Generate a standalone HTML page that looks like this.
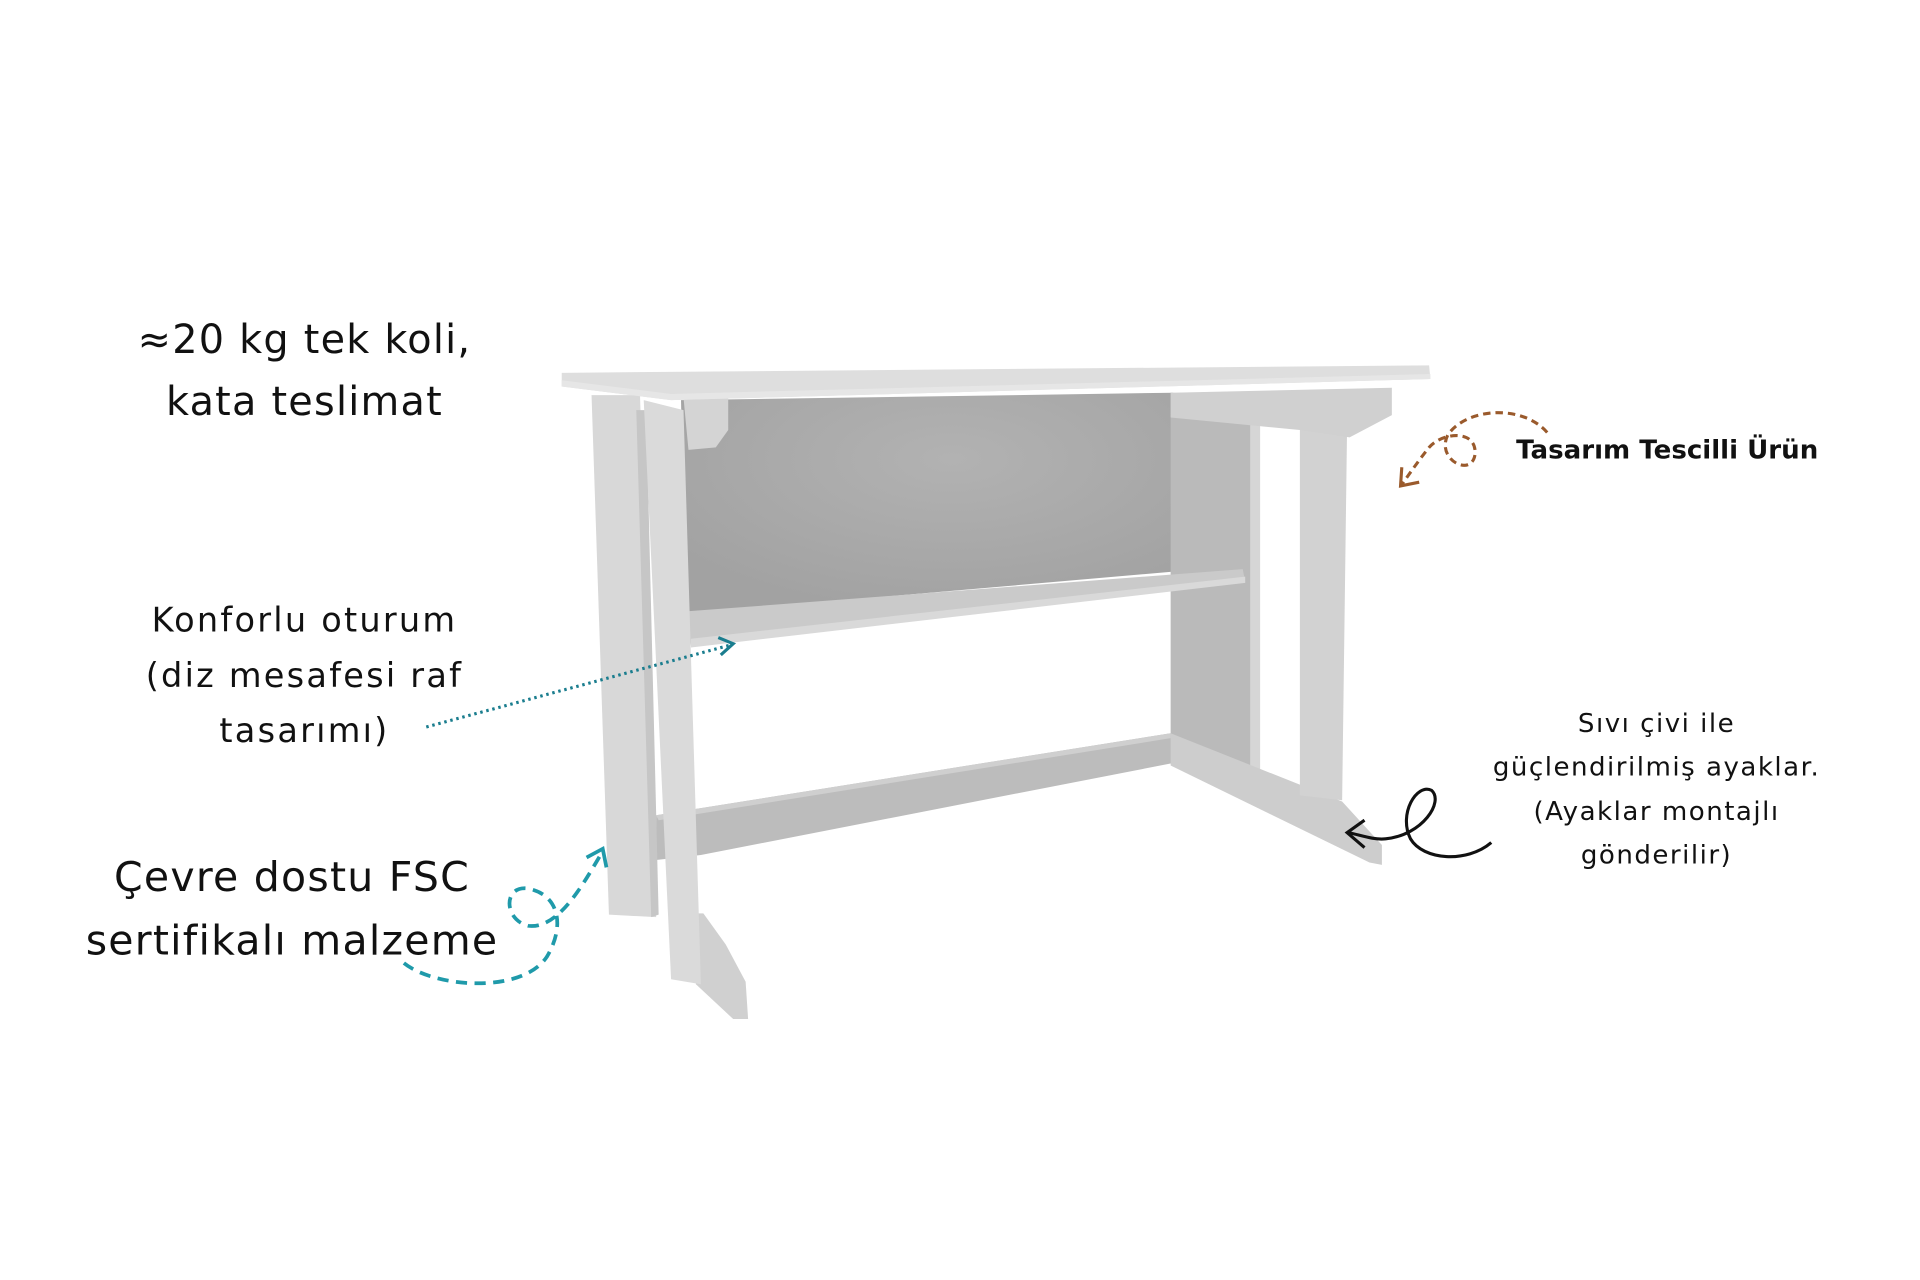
<!DOCTYPE html>
<html><head><meta charset="utf-8"><style>
html,body{margin:0;padding:0;background:#fff;}
svg{display:block}
text{font-family:"DejaVu Sans","Liberation Sans",sans-serif;fill:#111}
</style></head><body>
<svg width="1920" height="1280" viewBox="0 0 1545 1030" xmlns="http://www.w3.org/2000/svg">
<defs>
<radialGradient id="bp" cx="0.55" cy="0.3" r="0.7"><stop offset="0" stop-color="#b2b2b2"/><stop offset="1" stop-color="#a2a2a2"/></radialGradient>
</defs>
<rect width="1545" height="1030" fill="#fff"/>
<polygon points="548,322 944,316 944,460 552,494" fill="url(#bp)"/>
<polygon points="942,316 1012,320 1012,642 942,612" fill="#bababa"/>
<polygon points="1006,340 1014,340 1014,640 1006,638" fill="#d6d6d6"/>
<polygon points="528,656 942,590 944,614 564,688 528,692" fill="#bcbcbc"/>
<polygon points="528,656 942,590 942,594 530,660" fill="#cfcfcf"/>
<polygon points="942,590 1080,645 1112,680 1112,696 1102,694 942,616" fill="#cdcdcd"/>
<polygon points="1046,338 1084,342 1080,644 1046,640" fill="#d2d2d2"/>
<polygon points="942,316 1120,312 1120,334 1086,352 1046,346 942,336" fill="#d0d0d0"/>
<polygon points="552,492 1000,458 1002,468 556,520" fill="#cacaca"/>
<polygon points="556,514 1002,464 1002,469 556,521" fill="#d9d9d9"/>
<polygon points="476,318 515,318 528,738 490,736" fill="#d8d8d8"/>
<polygon points="512,330 520,330 530,736 524,738" fill="#c6c6c6"/>
<polygon points="552,735 566,735 584,760 600,790 602,820 590,820 560,792" fill="#d0d0d0"/>
<polygon points="518,322 550,330 564,792 540,788" fill="#dadada"/>
<polygon points="550,320 586,320 586,346 576,360 554,362" fill="#d4d4d4"/>
<polygon points="452,300 1150,294 1151,305 540,322 452,311" fill="#dedede"/>
<polygon points="452,306 540,317 1151,301 1151,305 540,322 452,311" fill="#e6e6e6"/>

<text x="245" y="284" font-size="32" letter-spacing="1" text-anchor="middle">≈20 kg tek koli,</text>
<text x="245" y="334" font-size="32" letter-spacing="1" text-anchor="middle">kata teslimat</text>
<text x="1220" y="369" font-size="21" font-weight="bold">Tasarım Tescilli Ürün</text>
<text x="245" y="508" font-size="27" letter-spacing="1.8" text-anchor="middle">Konforlu oturum</text>
<text x="245" y="553" font-size="27" letter-spacing="1.8" text-anchor="middle">(diz mesafesi raf</text>
<text x="245" y="597" font-size="27" letter-spacing="1.8" text-anchor="middle">tasarımı)</text>
<text x="1333" y="589" font-size="21" letter-spacing="1.2" text-anchor="middle">Sıvı çivi ile</text>
<text x="1333" y="624" font-size="21" letter-spacing="1.2" text-anchor="middle">güçlendirilmiş ayaklar.</text>
<text x="1333" y="660" font-size="21" letter-spacing="1.2" text-anchor="middle">(Ayaklar montajlı</text>
<text x="1333" y="695" font-size="21" letter-spacing="1.2" text-anchor="middle">gönderilir)</text>
<text x="235" y="717" font-size="33" letter-spacing="1" text-anchor="middle">Çevre dostu FSC</text>
<text x="235" y="768" font-size="33" letter-spacing="1" text-anchor="middle">sertifikalı malzeme</text>

<path d="M343,585 L588,519" stroke="#1a7d8e" stroke-width="2.5" stroke-dasharray="2,3" fill="none"/>
<path d="M578,513 L590,518 L580,527" stroke="#1a7d8e" stroke-width="2.5" fill="none"/>
<path d="M325,775 C350,795 420,800 440,770 C455,745 450,720 425,715 C405,712 405,740 425,745 C450,748 470,710 485,685" stroke="#1f9aaa" stroke-width="3" stroke-dasharray="9,6" fill="none"/>
<path d="M472,690 L485,683 L488,698" stroke="#1f9aaa" stroke-width="3" fill="none"/>
<path d="M1245,348 C1225,325 1180,328 1165,350 C1155,370 1185,385 1187,365 C1188,345 1160,348 1150,360 C1142,370 1135,380 1128,390" stroke="#9a5a2c" stroke-width="2.5" stroke-dasharray="6,4" fill="none"/>
<path d="M1128,376 L1127,391 L1142,388" stroke="#9a5a2c" stroke-width="2.5" fill="none"/>
<path d="M1200,678 C1180,695 1145,692 1135,675 C1125,655 1140,630 1152,636 C1162,645 1145,672 1115,675 C1105,676 1095,672 1085,670" stroke="#111" stroke-width="2.5" fill="none"/>
<path d="M1098,660 L1084,670 L1098,682" stroke="#111" stroke-width="2.5" fill="none"/>
</svg>
</body></html>
